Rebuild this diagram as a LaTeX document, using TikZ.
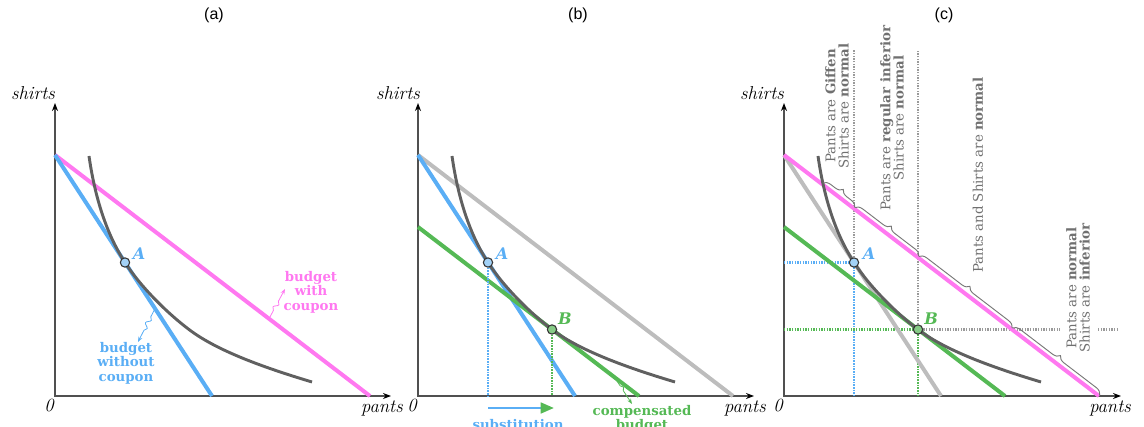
\documentclass[tikz,border=0pt]{standalone}
\usepackage{fontspec}
\newfontfamily\lblfont{DejaVu Serif}
\newfontfamily\ttlfont{Liberation Sans}
\usetikzlibrary{arrows.meta, decorations.pathreplacing, decorations.pathmorphing}

\definecolor{pinkc}{HTML}{FF78F0}
\definecolor{bluec}{HTML}{5AAEF5}
\definecolor{greenc}{HTML}{55B955}
\definecolor{lgray}{HTML}{BDBDBD}
\definecolor{curvec}{HTML}{606060}
\definecolor{axisc}{HTML}{505050}
\definecolor{notec}{HTML}{707070}
\definecolor{guidec}{HTML}{9A9A9A}
\definecolor{bluefill}{HTML}{A3D2F7}
\definecolor{greenfill}{HTML}{86CB86}

\begin{document}
\begin{tikzpicture}[
    x=0.75pt, y=0.75pt,
    >=Stealth,
    axis/.style={draw=axisc, line width=1.2pt,
                 {Stealth[length=6pt,width=4.5pt,color=black]}-{Stealth[length=6pt,width=4.5pt,color=black]}},
    axlbl/.style={font=\itshape\fontsize{14}{15}\selectfont},
    ttl/.style={font=\ttlfont\fontsize{12}{14}\selectfont},
    budget/.style={line width=3pt},
    indiff/.style={draw=curvec, line width=2.2pt},
    guide/.style={line width=1.6pt, dash pattern=on 1.1pt off 0.9pt},
    pnt/.style={circle, draw=black!80, line width=0.8pt, minimum size=7pt, inner sep=0pt},
    ptlbl/.style={font=\lblfont\bfseries\itshape\fontsize{12}{12}\selectfont},
    lbl/.style={font=\lblfont\bfseries\fontsize{10}{10.8}\selectfont, align=center},
    note/.style={font=\lblfont\fontsize{10}{10}\selectfont, text=notec, align=center, rotate=90},
    wiggle/.style={line width=0.6pt, decorate,
                   decoration={snake, amplitude=1.6pt, segment length=7pt, pre length=7pt, post length=9pt},
                   -{Stealth[length=4pt,width=3pt]}},
    brc/.style={draw=curvec!85, line width=0.7pt, decorate,
                decoration={brace, amplitude=5.5pt, raise=1pt}}
  ]
  \useasboundingbox (0,0) rectangle (1144,427);

  % titles
  \node[ttl] (ta) at (214,412) {(a)};
  \node[ttl] (tb) at (578,412) {(b)};
  \node[ttl] (tc) at (944,412) {(c)};

  % (a) budget with and without coupon
  \begin{scope}[shift={(55,31)}]
    \coordinate (oa) at (0,0);
    \draw[axis] (0,293) -- (oa) -- (336,0);
    \node[axlbl] (ya) at (-22,303) {shirts};
    \node[axlbl] (xa) at (327,-12) {pants};
    \node[axlbl] (za) at (-6,-9) {0};
    \draw[budget, pinkc] (0,241) -- (315,0);
    \draw[budget, bluec] (0,241) -- (157,0);
    \draw[indiff] (34,240) .. controls (39.2,203.4) and (49.8,164.5) .. (70,133.5)
      .. controls (85,110) and (112,83) .. (134,66.5)
      .. controls (162,45.2) and (209,28.4) .. (257,14);
    \node[pnt, fill=bluefill] (Aa) at (70,133.5) {};
    \node[ptlbl, text=bluec] (Aal) at (84,142) {A};
    \node[lbl, text=pinkc] (withlbl) at (256,104) {budget\\with\\coupon};
    \node[lbl, text=bluec] (wolbl) at (71,33) {budget\\without\\coupon};
    \coordinate (wp) at (214,77.3);
    \coordinate (wq) at (230,107);
    \coordinate (bp) at (100,87.5);
    \coordinate (bq) at (83,54);
    \draw[wiggle, pinkc] (wp) -- (wq);
    \draw[wiggle, bluec] (bp) -- (bq);
  \end{scope}

  % (b) compensated budget
  \begin{scope}[shift={(418,31)}]
    \coordinate (ob) at (0,0);
    \draw[axis] (0,293) -- (ob) -- (336,0);
    \node[axlbl] (yb) at (-20,303) {shirts};
    \node[axlbl] (xb) at (327,-12) {pants};
    \node[axlbl] (zb) at (-6,-9) {0};
    \draw[budget, lgray] (0,241) -- (315,0);
    \draw[budget, bluec] (0,241) -- (157,0);
    \draw[budget, greenc] (0,169) -- (221,0);
    \draw[indiff] (34,240) .. controls (39.2,203.4) and (49.8,164.5) .. (70,133.5)
      .. controls (85,110) and (112,83) .. (134,66.5)
      .. controls (162,45.2) and (209,28.4) .. (257,14);
    \coordinate (Ab) at (70,133.5);
    \coordinate (Bb) at (134,66.5);
    \draw[guide, bluec] (Ab) -- (Ab |- ob);
    \draw[guide, greenc] (Bb) -- (Bb |- ob);
    \node[pnt, fill=bluefill] (pAb) at (Ab) {};
    \node[pnt, fill=greenfill] (pBb) at (Bb) {};
    \node[ptlbl, text=bluec] (Abl) at (84,142) {A};
    \node[ptlbl, text=greenc] (Bbl) at (147,77) {B};
    % substitution effect
    \coordinate (sl) at (70,-12);
    \coordinate (sr) at (136,-12);
    \draw[bluec, line width=2pt, -{Triangle[length=10pt,width=8pt,color=greenc]}] (sl) -- (sr);
    \node[lbl, text=bluec] (sublbl) at (100,-29) {substitution};
    \node[lbl, text=greenc] (complbl) at (224,-23) {compensated\\budget};
    \coordinate (cp) at (197,18);
    \coordinate (cq) at (214,-8);
    \draw[wiggle, greenc] (cp) -- (cq);
  \end{scope}

  % (c) income and substitution regions
  \begin{scope}[shift={(784,31)}]
    \coordinate (oc) at (0,0);
    \draw[axis] (0,293) -- (oc) -- (337,0);
    \node[axlbl] (yc) at (-22,303) {shirts};
    \node[axlbl] (xc) at (326,-12) {pants};
    \node[axlbl] (zc) at (-6,-9) {0};
    \coordinate (Ac) at (70,133.5);
    \coordinate (Bc) at (134,66.5);
    % guide lines
    \draw[guide, guidec] (Ac) -- (70,346);
    \draw[guide, guidec] (Bc) -- (134,346);
    \draw[guide, guidec] (Bc) -- (276,66.5);
    \draw[guide, guidec] (314,66.5) -- (334,66.5);
    \draw[guide, bluec] (oc |- Ac) -- (Ac) -- (Ac |- oc);
    \draw[guide, greenc] (oc |- Bc) -- (Bc) -- (Bc |- oc);
    \draw[budget, lgray] (0,241) -- (157,0);
    \draw[budget, greenc] (0,169) -- (221,0);
    \draw[budget, pinkc] (0,241) -- (315,0);
    \draw[indiff] (34,240) .. controls (39.2,203.4) and (49.8,164.5) .. (70,133.5)
      .. controls (85,110) and (112,83) .. (134,66.5)
      .. controls (162,45.2) and (209,28.4) .. (257,14);
    \node[pnt, fill=bluefill] (pAc) at (Ac) {};
    \node[pnt, fill=greenfill] (pBc) at (Bc) {};
    \node[ptlbl, text=bluec] (Acl) at (85,142) {A};
    \node[ptlbl, text=greenc] (Bcl) at (147,77) {B};
    % braces along the coupon budget
    \coordinate (k1) at (38,211.9);
    \coordinate (k2) at (70,187.4);
    \coordinate (k3) at (134,138.5);
    \coordinate (k4) at (227.5,66.9);
    \coordinate (k5) at (315,0);
    \foreach \p/\q in {k1/k2, k2/k3, k3/k4, k4/k5} {
      \draw[brc] (\p) -- (\q);
    }
    \node[note] (giff) at (53,290) {Pants are \textbf{Giffen}\\Shirts are \textbf{normal}};
    \node[note] (reginf) at (108,278) {Pants are \textbf{regular inferior}\\Shirts are \textbf{normal}};
    \node[note] (bothn) at (194,221) {Pants and Shirts are \textbf{normal}};
    \node[note] (shinf) at (294,108) {Pants are \textbf{normal}\\Shirts are \textbf{inferior}};
  \end{scope}
\end{tikzpicture}
\end{document}
